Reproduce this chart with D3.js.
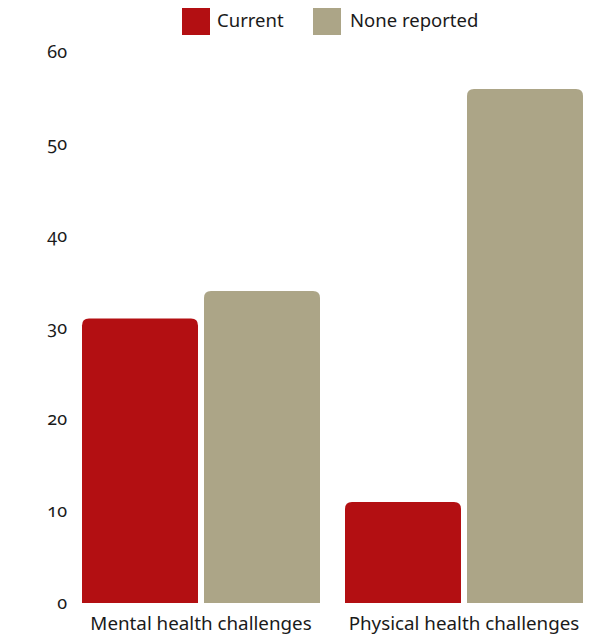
<!DOCTYPE html>
<html>
<head>
<meta charset="utf-8">
<script src="https://cdn.jsdelivr.net/npm/d3@7"></script>
<style>
  html, body { margin: 0; padding: 0; background: #fff; }
  svg text { font-family: "Noto Sans", "Open Sans", sans-serif; fill: #1a1a1a; font-variant-numeric: oldstyle-nums; font-feature-settings: "onum" 1; }
</style>
</head>
<body>
<svg id="chart" width="607" height="637"></svg>
<script>
// Share of respondents by health challenge, split by status
const categories = ["Mental health challenges", "Physical health challenges"];
const seriesNames = ["Current", "None reported"];
const currentValues = [31, 11];
const noneReportedValues = [34, 56];
const yTicks = [0, 10, 20, 30, 40, 50, 60];
const colors = ["#b30f12", "#aca587"];

const svg = d3.select("#chart");

const y = d3.scaleLinear().domain([0, 60]).range([603, 52.2]);

const x0 = d3.scaleBand()
  .domain(categories)
  .range([82, 583])
  .paddingInner(25 / 263)
  .paddingOuter(0);

const x1 = d3.scaleBand()
  .domain(seriesNames)
  .range([0, x0.bandwidth()])
  .paddingInner(6 / 122);

const color = d3.scaleOrdinal().domain(seriesNames).range(colors);

const rows = categories.map((c, i) => ({
  category: c,
  values: [
    { key: seriesNames[0], value: currentValues[i] },
    { key: seriesNames[1], value: noneReportedValues[i] }
  ]
}));

// Bars with rounded top corners only
function topRoundedRect(x, yTop, w, h, r) {
  r = Math.min(r, w / 2, h);
  return `M${x},${yTop + h}V${yTop + r}Q${x},${yTop} ${x + r},${yTop}` +
         `H${x + w - r}Q${x + w},${yTop} ${x + w},${yTop + r}V${yTop + h}Z`;
}

const groups = svg.append("g").selectAll("g")
  .data(rows)
  .join("g")
  .attr("transform", d => `translate(${x0(d.category)},0)`);

groups.selectAll("path")
  .data(d => d.values)
  .join("path")
  .attr("fill", d => color(d.key))
  .attr("d", d => topRoundedRect(x1(d.key), y(d.value), x1.bandwidth(), y(0) - y(d.value), 7));

// Y axis: labels only
const yAxis = d3.axisLeft(y).tickValues(yTicks).tickSize(0).tickPadding(0).tickFormat(d3.format("d"));
const yg = svg.append("g").attr("transform", "translate(67,0)").call(yAxis);
yg.select(".domain").remove();
yg.selectAll("text").attr("font-size", 18)
  .attr("text-anchor", "end").attr("dy", "0.3em");

// X axis: category labels only
const xAxis = d3.axisBottom(x0).tickSize(0).tickPadding(0);
const xg = svg.append("g").attr("transform", `translate(0,${y(0)})`).call(xAxis);
xg.select(".domain").remove();
xg.selectAll("text").attr("font-size", 18.8).attr("dy", null).attr("y", 27);

// Legend
const legendItems = [
  { key: seriesNames[0], x: 182, tx: 217 },
  { key: seriesNames[1], x: 313, tx: 350 }
];
const legend = svg.append("g");
legendItems.forEach(it => {
  legend.append("rect").attr("x", it.x).attr("y", 8).attr("width", 28).attr("height", 27)
    .attr("fill", color(it.key));
  legend.append("text").attr("x", it.tx).attr("y", 27).attr("font-size", 18.5).text(it.key);
});
svg.selectAll("g.tick text").attr("font-family", null);
</script>
</body>
</html>
